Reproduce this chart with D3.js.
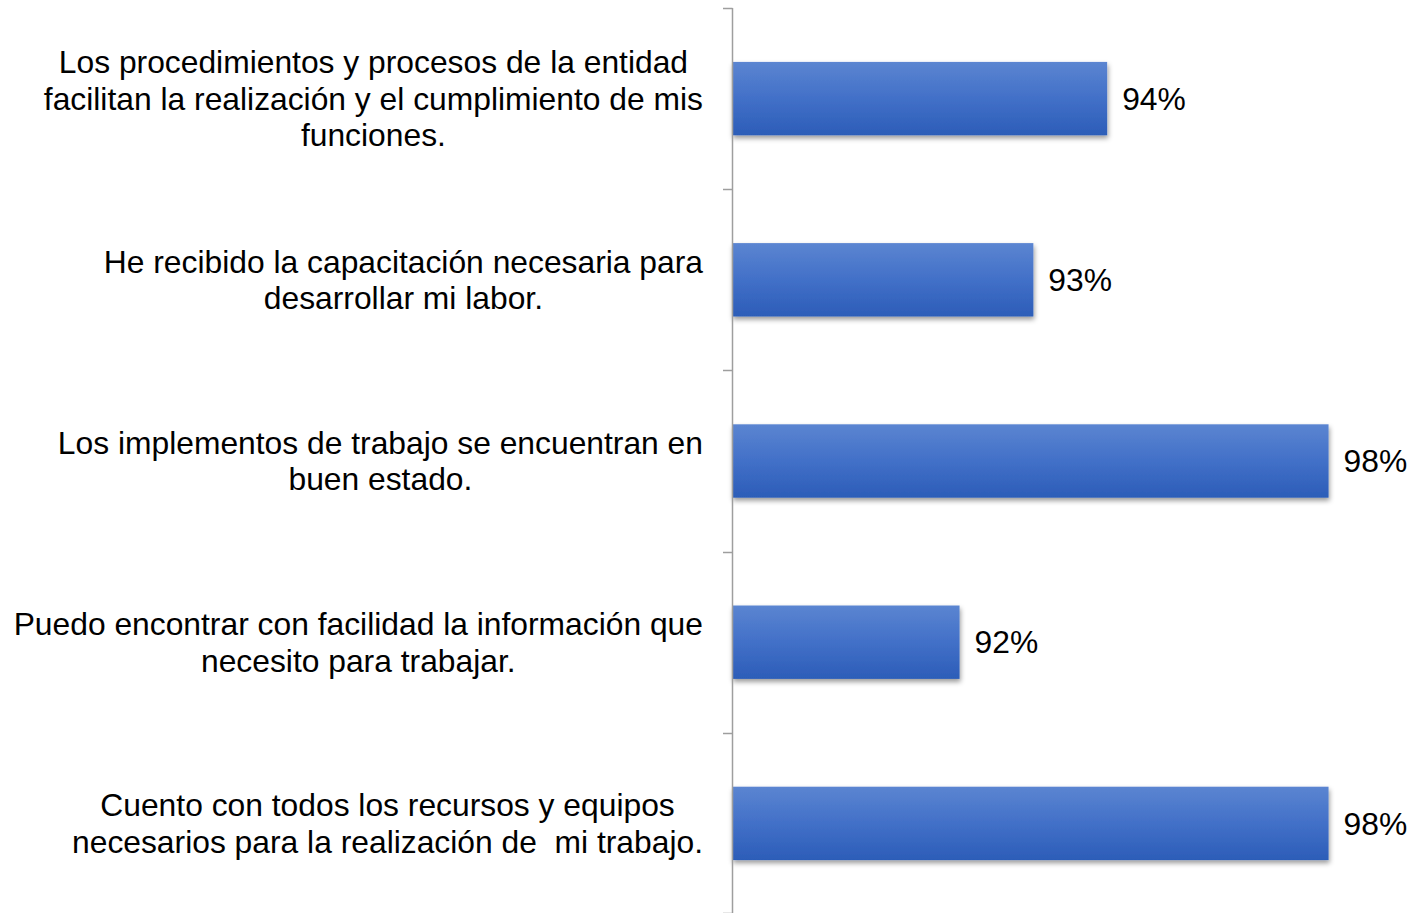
<!DOCTYPE html>
<html>
<head>
<meta charset="utf-8">
<script src="https://cdn.jsdelivr.net/npm/d3@7"></script>
<style>
  body { margin: 0; background: #fff; }
  svg { display: block; font-family: "Liberation Sans", Arial, sans-serif; }
</style>
</head>
<body>
<svg id="chart" width="1412" height="913"></svg>
<script>
// category labels, one entry per line of text
var categories = [
  ["Los procedimientos y procesos de la entidad", "facilitan la realización y el cumplimiento de mis", "funciones."],
  ["He recibido la capacitación necesaria para", "desarrollar mi labor."],
  ["Los implementos de trabajo se encuentran en", "buen estado."],
  ["Puedo encontrar con facilidad la información que", "necesito para trabajar."],
  ["Cuento con todos los recursos y equipos", "necesarios para la realización de  mi trabajo."]
];
var values = [0.941, 0.929, 0.977, 0.917, 0.977];

var svg = d3.select('#chart');
var axisX = 732;
var fontSize = 31.8;
var lineH = 36.5;

var y = d3.scaleBand()
  .domain(d3.range(categories.length))
  .range([8, 914])
  .paddingInner(0.595)
  .paddingOuter(0.2975);

var x = d3.scaleLinear()
  .domain([0.88, 1.0])
  .range([axisX, axisX + 738]);

var defs = svg.append('defs');
var grad = defs.append('linearGradient')
  .attr('id', 'barGrad')
  .attr('x1', 0).attr('y1', 0).attr('x2', 0).attr('y2', 1);
grad.append('stop').attr('offset', '0%').attr('stop-color', '#5b85d1');
grad.append('stop').attr('offset', '50%').attr('stop-color', '#4270c8');
grad.append('stop').attr('offset', '100%').attr('stop-color', '#2c5db8');

var shadow = defs.append('filter').attr('id', 'shadow')
  .attr('x', '-5%').attr('y', '-20%').attr('width', '115%').attr('height', '150%');
shadow.append('feDropShadow')
  .attr('dx', 1).attr('dy', 3).attr('stdDeviation', 2.5)
  .attr('flood-color', '#000').attr('flood-opacity', 0.4);

// bars
svg.append('g').selectAll('rect')
  .data(values)
  .enter().append('rect')
  .attr('x', axisX)
  .attr('y', function(d, i) { return y(i); })
  .attr('width', function(d) { return x(d) - axisX; })
  .attr('height', y.bandwidth())
  .attr('fill', 'url(#barGrad)')
  .attr('filter', 'url(#shadow)');

// value labels
svg.append('g').selectAll('text')
  .data(values)
  .enter().append('text')
  .attr('x', function(d) { return x(d) + 15; })
  .attr('y', function(d, i) { return y(i) + y.bandwidth() / 2; })
  .attr('dy', '0.35em')
  .attr('font-size', fontSize)
  .attr('fill', '#000')
  .text(function(d) { return Math.round(d * 100) + '%'; });

// axis: line with ticks between categories
var axis = svg.append('g');
var tickYs = d3.range(categories.length + 1).map(function(i) {
  return i < categories.length ? y(i) - y.step() * y.paddingInner() / 2 : 913;
});
axis.append('line')
  .attr('x1', axisX + 0.5).attr('x2', axisX + 0.5)
  .attr('y1', tickYs[0]).attr('y2', 913)
  .attr('stroke', '#9e9e9e').attr('stroke-width', 1.5);
axis.selectAll('.tick')
  .data(tickYs)
  .enter().append('line')
  .attr('class', 'tick')
  .attr('x1', axisX - 9).attr('x2', axisX + 0.5)
  .attr('y1', function(d) { return Math.round(d) + 0.5; })
  .attr('y2', function(d) { return Math.round(d) + 0.5; })
  .attr('stroke', '#9e9e9e').attr('stroke-width', 1.5);

// category labels: block right aligned at 703, lines centred inside block
var labelRight = 703;
var labels = svg.append('g').selectAll('g')
  .data(categories)
  .enter().append('g');

labels.each(function(lines, i) {
  var g = d3.select(this);
  var cy = y(i) + y.bandwidth() / 2;
  var top = cy - (lines.length - 1) * lineH / 2;
  var texts = g.selectAll('text')
    .data(lines)
    .enter().append('text')
    .attr('font-size', fontSize)
    .attr('fill', '#000')
    .attr('text-anchor', 'middle')
    .attr('dy', '0.35em')
    .attr('y', function(d, j) { return top + j * lineH; })
    .style('white-space', 'pre')
    .text(function(d) { return d; });
  var maxW = 0;
  texts.each(function() { maxW = Math.max(maxW, this.getComputedTextLength()); });
  texts.attr('x', labelRight - maxW / 2);
});
</script>
</body>
</html>
